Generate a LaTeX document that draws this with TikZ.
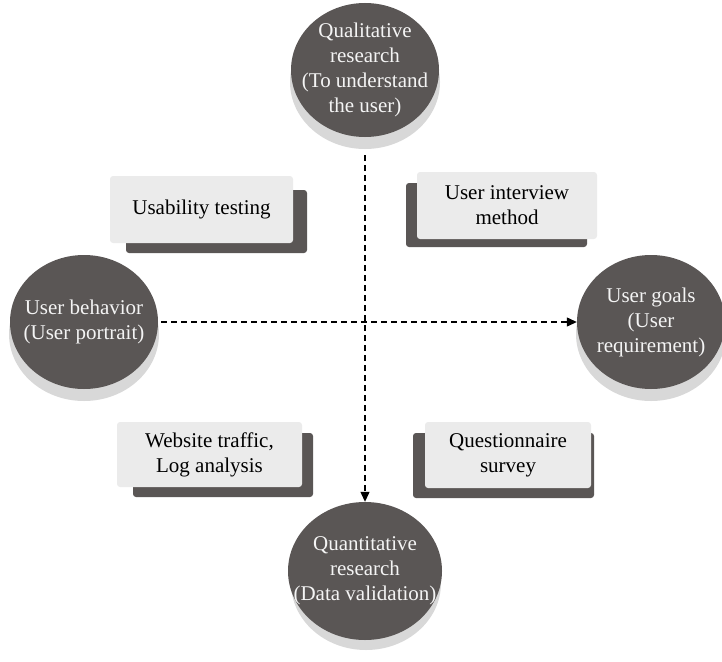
\documentclass[tikz,border=0pt]{standalone}
\usepackage{fontspec}
\setmainfont{Liberation Serif}
\usetikzlibrary{arrows.meta,shapes.geometric}

\definecolor{discdark}{HTML}{5A5655}
\definecolor{discshade}{HTML}{D8D8D8}
\definecolor{cardlight}{HTML}{EBEBEB}
\definecolor{disctext}{HTML}{F4F4F4}

\begin{document}
\begin{tikzpicture}[x=1pt,y=-1pt,
  disc/.style={ellipse, fill=discdark, minimum width=148pt, minimum height=134pt,
    inner sep=0pt},
  discshadow/.style={ellipse, fill=discshade, minimum width=150pt, minimum height=134pt,
    inner sep=0pt, yshift=-12pt},
  disclabel/.style={text=disctext, align=center, inner sep=0pt,
    font=\fontsize{21}{25}\selectfont},
  card/.style={rectangle, rounded corners=3pt, fill=cardlight, inner sep=0pt,
    align=center, font=\fontsize{21}{25}\selectfont},
  cardshadow/.style={fill=discdark, rounded corners=3pt},
  link/.style={line width=1.2pt, dash pattern=on 6pt off 4pt,
    -{Triangle[length=10pt,width=9pt]}}
]
\useasboundingbox (0,0) rectangle (722,661);

% shadows of the four discs
\node[discshadow] at (365,70) {};
\node[discshadow] at (366,571) {};
\node[discshadow] at (84,322) {};
\node[discshadow] at (651,322) {};

% discs
\node[disc] (qual) at (365,70) {};
\node[disc, minimum width=154pt, minimum height=138pt] (quant) at (365,571) {};
\node[disc] (behav) at (84,322) {};
\node[disc] (goals) at (651,322) {};

% disc labels
\node[disclabel] (qualtxt) at (qual) {Qualitative\\research\\(To understand\\the user)};
\node[disclabel] (quanttxt) at (quant) {Quantitative\\research\\(Data validation)};
\node[disclabel] (behavtxt) at (behav) {User behavior\\(User portrait)};
\node[disclabel] (goalstxt) at (goals) {User goals\\(User\\requirement)};

% method cards: dark backing plate, then light card
\fill[cardshadow] (126,190) rectangle (307,253);
\node[card, minimum width=183pt, minimum height=67pt] (usab) at (201.5,209.5) {Usability testing};

\fill[cardshadow] (406,183) rectangle (587,247);
\node[card, minimum width=180pt, minimum height=67pt] (intv) at (507,205.5) {User interview\\method};

\fill[cardshadow] (133,433) rectangle (313,497);
\node[card, minimum width=185pt, minimum height=65pt] (web) at (209.5,454.5) {Website traffic,\\Log analysis};

\fill[cardshadow] (413,433) rectangle (594,498);
\node[card, minimum width=166pt, minimum height=66pt] (quest) at (508,455) {Questionnaire\\survey};

% dashed axes
\draw[link] ([yshift=-18pt]qual.south) -- (quant.north);
\draw[link] ([xshift=3pt]behav.east) -- (goals.west);
\end{tikzpicture}
\end{document}
